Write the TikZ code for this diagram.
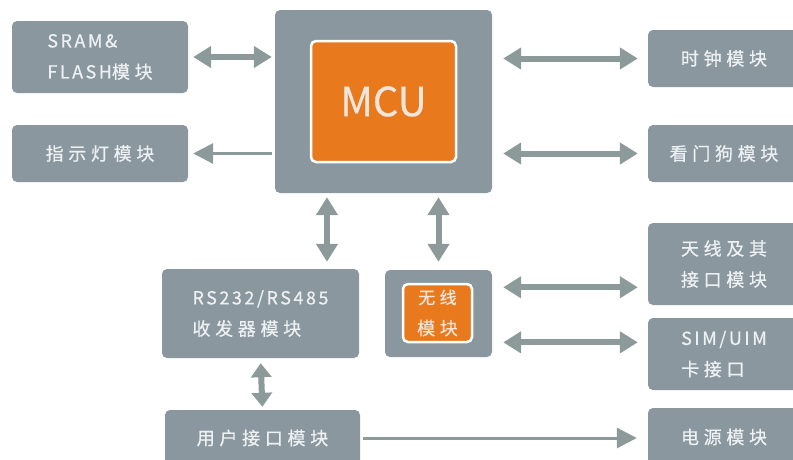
\documentclass[tikz,border=0pt]{standalone}
\usepackage{fontspec}
\setmainfont{Noto Sans CJK SC}
\newfontfamily\boxfont[LetterSpace=26, FakeBold=0.6]{Noto Sans CJK SC}
\usepackage{tikz}
\usetikzlibrary{arrows.meta,calc}

\definecolor{boxgray}{HTML}{8A979F}
\definecolor{linkgray}{HTML}{8C9A9A}
\definecolor{coreorange}{HTML}{E8791D}
\definecolor{boxtext}{HTML}{EEF1F3}

\newcommand{\latin}[1]{{\addfontfeature{LetterSpace=14}\fontsize{18}{30}\selectfont #1}}

\begin{document}
\begin{tikzpicture}[
  x=1pt,
  y=-1pt,
  font=\boxfont\fontsize{18}{31}\selectfont,
  block/.style={fill=boxgray, rounded corners=5pt, text=boxtext,
    align=left, inner sep=0pt},
  core/.style={fill=coreorange, draw=white, line width=2.5pt,
    rounded corners=5pt, text=boxtext!90!orange, align=center, inner sep=0pt},
  bus/.style={{Triangle[width=21pt,length=18pt]}-{Triangle[width=21pt,length=18pt]},
    line width=6pt, draw=linkgray},
  shortbus/.style={bus, {Triangle[width=20pt,length=14pt]}-{Triangle[width=20pt,length=14pt]}},
  feed/.style={-{Triangle[width=20pt,length=20pt]}, line width=3pt, draw=linkgray}
]
\clip (0,0) rectangle (793,459);

% blocks around the MCU
\node[block, minimum width=176, minimum height=72] (sram) at (100,57)
  {\latin{SRAM\&}\\\latin{FLASH}模块};
\node[block, minimum width=176, minimum height=57] (led) at (100,153.5)
  {指示灯模块};
\node[block, minimum width=217, minimum height=183] (mcu) at (383.5,101.5) {};
\node[core, minimum width=145, minimum height=121] (core) at (383.5,101.5)
  {\fontsize{40}{40}\selectfont\addfontfeature{LetterSpace=0}MCU};
\node[block, minimum width=152, minimum height=57] (clock) at (724,58.5)
  {时钟模块};
\node[block, minimum width=152, minimum height=57] (wdog) at (724,153.5)
  {看门狗模块};

% lower row
\node[block, minimum width=197, minimum height=89] (rs) at (260.5,313.5)
  {\latin{RS232/RS485}\\收发器模块};
\node[block, minimum width=107, minimum height=87] (radio) at (438.5,313.5) {};
\node[core, minimum width=69, minimum height=58] (radiocore) at (437.5,313)
  {\fontsize{17}{25}\selectfont 无线\\模块};
\node[block, minimum width=195, minimum height=56] (user) at (262.5,438)
  {用户接口模块};
\node[block, minimum width=152, minimum height=82] (ant) at (724,264)
  {\fontsize{18}{28}\selectfont 天线及其\\接口模块};
\node[block, minimum width=152, minimum height=72] (sim) at (724,354)
  {\latin{SIM/UIM}\\卡接口};
\node[block, minimum width=152, minimum height=58] (power) at (724,437)
  {电源模块};

% links
\draw[bus, shorten <=5pt, shorten >=3pt] (sram.east) -- (sram.east -| mcu.west);
\draw[feed, shorten <=3pt, shorten >=5pt] (led.east -| mcu.west) -- (led.east);
\draw[bus, shorten <=11pt, shorten >=10pt] (mcu.east |- clock.west) -- (clock.west);
\draw[bus, shorten <=11pt, shorten >=10pt] (mcu.east |- wdog.west) -- (wdog.west);
\coordinate (mcuport) at ($(mcu.south west)!0.24!(mcu.south east)$);
\draw[bus, shorten <=4pt, shorten >=7pt] (mcuport) -- (mcuport |- rs.north);
\draw[bus, shorten <=4pt, shorten >=8pt] (radio.north |- mcu.south) -- (radio.north);
\coordinate (antport) at ($(radio.north east)!0.2!(radio.south east)$);
\coordinate (simport) at ($(radio.north east)!0.83!(radio.south east)$);
\draw[bus, shorten <=11pt, shorten >=10pt] (antport) -- (antport -| ant.west);
\draw[bus, shorten <=11pt, shorten >=10pt] (simport) -- (simport -| sim.west);
\draw[shortbus, shorten <=5pt, shorten >=3pt] (rs.south) -- (user.north);
\draw[feed, shorten <=3pt, shorten >=11pt] (user.east) -- (user.east -| power.west);

\end{tikzpicture}
\end{document}
